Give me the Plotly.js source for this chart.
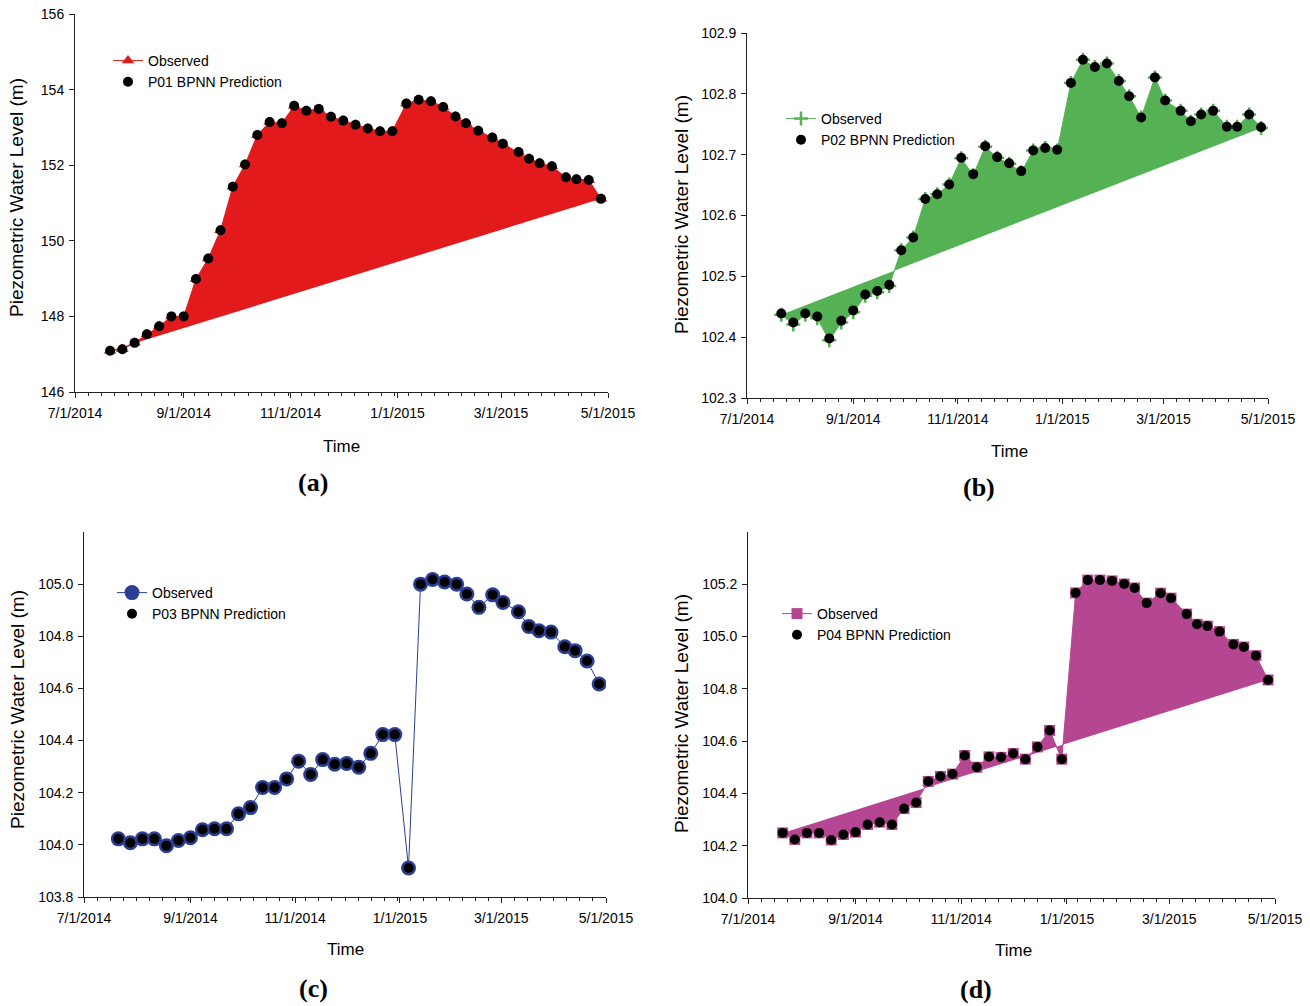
<!DOCTYPE html>
<html>
<head>
<meta charset="utf-8">
<script src="https://cdn.plot.ly/plotly-3.0.1.min.js"></script>
<style>html,body{margin:0;padding:0;background:#fff;}#chart{width:1310px;height:1006px;}</style>
</head>
<body>
<div id="chart"></div>
<script>
// ---- data ----
const dates = ['2014-07-21','2014-07-28','2014-08-04','2014-08-11','2014-08-18','2014-08-25','2014-09-01','2014-09-08','2014-09-15','2014-09-22','2014-09-29','2014-10-06','2014-10-13','2014-10-20','2014-10-27','2014-11-03','2014-11-10','2014-11-17','2014-11-24','2014-12-01','2014-12-08','2014-12-15','2014-12-22','2014-12-29','2015-01-06','2015-01-13','2015-01-20','2015-01-27','2015-02-03','2015-02-09','2015-02-16','2015-02-24','2015-03-02','2015-03-11','2015-03-17','2015-03-23','2015-03-30','2015-04-07','2015-04-13','2015-04-20','2015-04-27'];

const p01Obs  = [147.09,147.13,147.30,147.53,147.74,148.00,148.00,148.99,149.53,150.28,151.43,152.02,152.80,153.14,153.11,153.57,153.44,153.49,153.28,153.18,153.07,152.97,152.90,152.90,153.63,153.73,153.69,153.54,153.29,153.11,152.91,152.73,152.57,152.35,152.17,152.05,151.97,151.68,151.63,151.61,151.11];
const p01Pred = [147.09,147.13,147.30,147.53,147.74,148.00,148.00,148.99,149.53,150.28,151.43,152.02,152.80,153.14,153.11,153.57,153.44,153.49,153.28,153.18,153.07,152.97,152.90,152.90,153.63,153.73,153.69,153.54,153.29,153.11,152.91,152.73,152.57,152.35,152.17,152.05,151.97,151.68,151.63,151.61,151.11];

const p02Obs  = [102.437,102.421,102.437,102.431,102.395,102.424,102.441,102.468,102.474,102.484,102.543,102.564,102.627,102.635,102.651,102.694,102.666,102.713,102.695,102.685,102.671,102.707,102.711,102.707,102.818,102.856,102.844,102.850,102.821,102.796,102.761,102.827,102.789,102.772,102.754,102.766,102.772,102.746,102.746,102.766,102.744];
const p02Pred = [102.439,102.424,102.439,102.434,102.398,102.427,102.444,102.470,102.476,102.486,102.543,102.564,102.627,102.635,102.651,102.695,102.668,102.714,102.696,102.686,102.673,102.707,102.711,102.708,102.818,102.856,102.844,102.850,102.821,102.796,102.761,102.827,102.789,102.772,102.755,102.766,102.772,102.746,102.746,102.766,102.745];

const p03Obs  = [104.023,104.008,104.023,104.023,103.997,104.017,104.027,104.058,104.062,104.062,104.119,104.143,104.220,104.220,104.253,104.321,104.270,104.327,104.309,104.312,104.298,104.351,104.423,104.423,103.911,105.000,105.018,105.008,105.000,104.962,104.911,104.959,104.930,104.894,104.838,104.821,104.816,104.760,104.745,104.705,104.617];
const p03Pred = [104.023,104.008,104.023,104.023,103.997,104.017,104.027,104.058,104.062,104.062,104.119,104.143,104.220,104.220,104.253,104.321,104.270,104.327,104.309,104.312,104.298,104.351,104.423,104.423,103.911,105.000,105.018,105.008,105.000,104.962,104.911,104.959,104.930,104.894,104.838,104.821,104.816,104.760,104.745,104.705,104.617];

const p04Obs  = [104.249,104.224,104.249,104.249,104.222,104.243,104.252,104.281,104.290,104.281,104.342,104.365,104.446,104.465,104.474,104.545,104.500,104.540,104.538,104.553,104.531,104.578,104.641,104.531,105.167,105.216,105.216,105.213,105.201,105.186,105.128,105.166,105.147,105.086,105.047,105.040,105.019,104.970,104.960,104.927,104.834];
const p04Pred = [104.249,104.224,104.249,104.249,104.222,104.243,104.252,104.281,104.290,104.281,104.342,104.365,104.446,104.465,104.474,104.545,104.500,104.540,104.538,104.553,104.531,104.578,104.641,104.531,105.167,105.216,105.216,105.213,105.201,105.186,105.128,105.166,105.147,105.086,105.047,105.040,105.019,104.970,104.960,104.927,104.834];

const predNames = ['P01 BPNN Prediction','P02 BPNN Prediction','P03 BPNN Prediction','P04 BPNN Prediction'];
const yTicks3 = [103.8,104.0,104.2,104.4,104.6,104.8,105.0];
const yTicks4 = [104.0,104.2,104.4,104.6,104.8,105.0,105.2];

// ---- styling ----
const W = 1310, H = 1006;
const FONT = 'Liberation Sans, Arial, sans-serif';
const SERIF = 'Liberation Serif, Times New Roman, serif';
const px = v => v / W, py = v => 1 - v / H;

const traces = [];
function panel(n, obs, pred, cfg) {
  const xa = n === 1 ? 'x' : 'x' + n, ya = n === 1 ? 'y' : 'y' + n;
  const lg = n === 1 ? 'legend' : 'legend' + n;
  if (cfg.fill) {
    traces.push({x: dates, y: obs, xaxis: xa, yaxis: ya, type: 'scatter', mode: 'lines',
      fill: 'toself', fillcolor: cfg.fill, line: {width: 0, color: cfg.fill}, showlegend: false, hoverinfo: 'skip'});
  }
  traces.push({x: dates, y: obs, xaxis: xa, yaxis: ya, type: 'scatter', mode: 'lines+markers', name: 'Observed',
    legend: lg, line: {color: cfg.color, width: 1}, marker: cfg.marker});
  traces.push({x: dates, y: pred, xaxis: xa, yaxis: ya, type: 'scatter', mode: 'markers', name: predNames[n-1],
    legend: lg, marker: {color: '#000', size: cfg.dot || 10, symbol: 'circle'}});
}
const RED = 'rgb(226,26,28)', GREEN = 'rgb(84,178,84)', BLUE = 'rgb(42,62,150)', PURPLE = 'rgb(181,70,145)';
panel(1, p01Obs, p01Pred, {fill: RED, color: RED, marker: {symbol: 'triangle-up', size: 11, color: RED}});
panel(2, p02Obs, p02Pred, {fill: GREEN, color: GREEN, marker: {symbol: 'cross-thin-open', size: 10, color: GREEN, line: {width: 2.5, color: GREEN}}});
panel(3, p03Obs, p03Pred, {fill: null, color: BLUE, marker: {symbol: 'circle', size: 15, color: BLUE}, dot: 10});
panel(4, p04Obs, p04Pred, {fill: PURPLE, color: PURPLE, marker: {symbol: 'square', size: 11, color: PURPLE}});

function xaxis(d, anchor) {
  return {domain: d, anchor: anchor, type: 'date', range: ['2014-07-01', '2015-05-01'],
    tick0: '2014-07-01', dtick: 'M2', tickformat: '%-m/%-d/%Y', showgrid: false, zeroline: false,
    showline: true, linecolor: '#222', linewidth: 1, ticks: 'outside', ticklen: 5, tickcolor: '#222',
    ticklabelstandoff: 3, tickfont: {family: FONT, size: 14, color: '#000'},
    minor: {ticks: 'outside', ticklen: 3, tickcolor: '#222', tick0: '2014-07-01', dtick: 7.6 * 86400000, showgrid: false}};
}
function yaxis(d, anchor, range, extra) {
  return Object.assign({domain: d, anchor: anchor, range: range, showgrid: false, zeroline: false,
    showline: true, linecolor: '#222', linewidth: 1, ticks: 'outside', ticklen: 5, tickcolor: '#222',
    ticklabelstandoff: 2, tickfont: {family: FONT, size: 14, color: '#000'}}, extra);
}
function legend(left, top) {
  return {x: px(left), y: py(top), xanchor: 'left', yanchor: 'top', bgcolor: 'rgba(0,0,0,0)',
    borderwidth: 0, font: {family: FONT, size: 14, color: '#000'}, traceorder: 'normal'};
}
const ann = [];
function text(t, x, y, size, opts) {
  ann.push(Object.assign({text: t, x: px(x), y: py(y), xref: 'paper', yref: 'paper', showarrow: false,
    xanchor: 'center', yanchor: 'middle', font: {family: FONT, size: size, color: '#000'}}, opts || {}));
}
text('Time', 341, 446, 17); text('Time', 1010, 451, 17); text('Time', 345, 949, 17); text('Time', 1013, 950, 17);
const yt = 'Piezometric Water Level (m)';
text(yt, 17, 198, 19, {textangle: -90}); text(yt, 681, 215, 19, {textangle: -90});
text(yt, 17, 710, 19, {textangle: -90}); text(yt, 681, 714, 19, {textangle: -90});
const lab = {family: SERIF, size: 26, color: '#000'};
text('<b>(a)</b>', 313, 482, 26, {font: lab}); text('<b>(b)</b>', 979, 487, 26, {font: lab});
text('<b>(c)</b>', 313, 988, 26, {font: lab}); text('<b>(d)</b>', 976, 989, 26, {font: lab});

const layout = {
  width: W, height: H, margin: {l: 0, r: 0, t: 0, b: 0}, paper_bgcolor: '#fff', plot_bgcolor: '#fff',
  font: {family: FONT, size: 14, color: '#000'}, showlegend: true,
  xaxis: xaxis([px(75), px(608)], 'y'),
  yaxis: yaxis([py(392), py(14)], 'x', [146, 156], {dtick: 2, tick0: 146}),
  xaxis2: xaxis([px(747), px(1268)], 'y2'),
  yaxis2: yaxis([py(398), py(33)], 'x2', [102.3, 102.9], {dtick: 0.1, tick0: 102.3, tickformat: '.1f'}),
  xaxis3: xaxis([px(84), px(606)], 'y3'),
  yaxis3: yaxis([py(897), py(532)], 'x3', [103.8, 105.2], {tickmode: 'array', tickvals: yTicks3, ticktext: yTicks3.map(v => v.toFixed(1))}),
  xaxis4: xaxis([px(748), px(1275)], 'y4'),
  yaxis4: yaxis([py(898), py(532)], 'x4', [104.0, 105.4], {tickmode: 'array', tickvals: yTicks4, ticktext: yTicks4.map(v => v.toFixed(1))}),
  legend: legend(108, 45), legend2: legend(781, 103), legend3: legend(112, 577), legend4: legend(777, 598),
  annotations: ann
};
Plotly.newPlot('chart', traces, layout, {displayModeBar: false, staticPlot: true});
</script>
</body>
</html>
